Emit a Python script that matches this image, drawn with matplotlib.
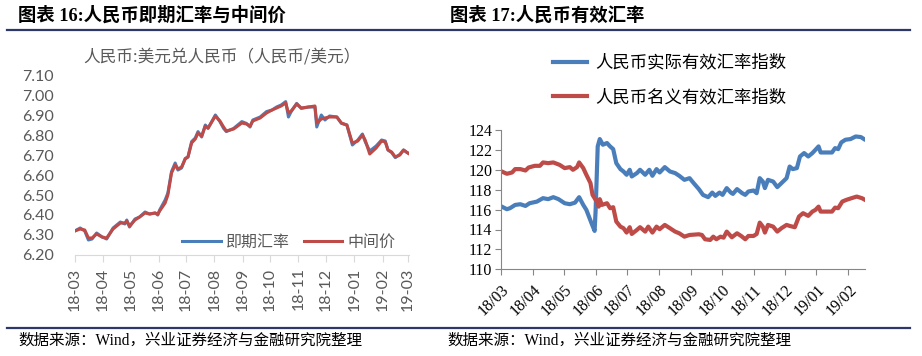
import pandas as pd
import numpy as np
import matplotlib
matplotlib.use("Agg")
import matplotlib.pyplot as plt
from matplotlib.lines import Line2D

plt.rcParams['font.family'] = ['Noto Sans CJK SC', 'DejaVu Sans']

BASE = pd.Timestamp("2018-03-01")

# Chart 16: USD/CNY spot vs central parity (days since 2018-03-01)
fx_days = [0, 6, 11, 15, 19, 24, 30, 35, 42, 50, 55, 57, 60, 66, 71, 77, 82, 88, 91, 93,
           99, 102, 106, 110, 113, 117, 121, 124, 128, 132, 135, 139, 143, 146, 154, 159,
           163, 166, 174, 183, 188, 192, 195, 203, 210, 216, 221, 226, 231, 234, 237, 243,
           248, 256, 263, 265, 270, 274, 279, 287, 292, 298, 304, 310, 315, 318, 323, 330,
           336, 340, 343, 347, 351, 356, 360, 364, 367]
spot = [6.320, 6.335, 6.320, 6.275, 6.280, 6.310, 6.290, 6.280, 6.335, 6.365, 6.355, 6.375,
        6.340, 6.380, 6.390, 6.415, 6.405, 6.410, 6.400, 6.425, 6.475, 6.510, 6.617, 6.660,
        6.625, 6.635, 6.683, 6.690, 6.767, 6.785, 6.817, 6.790, 6.850, 6.833, 6.900, 6.867,
        6.833, 6.817, 6.833, 6.867, 6.858, 6.840, 6.875, 6.890, 6.917, 6.925, 6.940, 6.950,
        6.967, 6.890, 6.917, 6.958, 6.933, 6.940, 6.940, 6.840, 6.900, 6.875, 6.895, 6.890,
        6.858, 6.850, 6.750, 6.775, 6.805, 6.767, 6.720, 6.745, 6.775, 6.770, 6.725, 6.712,
        6.687, 6.703, 6.725, 6.712, 6.703]
central = [6.320, 6.330, 6.325, 6.285, 6.285, 6.305, 6.290, 6.285, 6.330, 6.360, 6.360, 6.370,
           6.345, 6.375, 6.390, 6.410, 6.405, 6.410, 6.405, 6.420, 6.460, 6.500, 6.610, 6.650,
           6.630, 6.640, 6.680, 6.690, 6.760, 6.780, 6.810, 6.795, 6.845, 6.835, 6.895, 6.870,
           6.840, 6.820, 6.830, 6.860, 6.855, 6.845, 6.870, 6.885, 6.910, 6.925, 6.935, 6.945,
           6.960, 6.910, 6.920, 6.955, 6.935, 6.940, 6.945, 6.860, 6.880, 6.885, 6.890, 6.890,
           6.860, 6.850, 6.760, 6.770, 6.800, 6.775, 6.705, 6.735, 6.770, 6.765, 6.725, 6.715,
           6.690, 6.700, 6.725, 6.712, 6.705]
fx_ticks = pd.date_range("2018-03-01", "2019-03-01", freq="MS")

# Chart 17: RMB effective exchange rate indices
reer_days = [1, 6, 9, 14, 19, 24, 28, 35, 41, 46, 51, 56, 62, 67, 72, 76, 80, 83, 88, 91,
             92, 94, 96, 99, 103, 106, 109, 112, 116, 119, 122, 125, 127, 132, 135, 140, 144,
             147, 151, 154, 159, 164, 169, 173, 178, 183, 187, 192, 196, 201, 205, 208, 212,
             215, 219, 223, 225, 229, 234, 237, 240, 245, 248, 251, 254, 256, 259, 264, 268,
             272, 277, 280, 283, 287, 290, 294, 298, 302, 305, 308, 310, 316, 321, 324, 327,
             330, 334, 339, 344, 349, 352]
reer = [116.30, 116.04, 116.14, 116.47, 116.54, 116.37, 116.64, 116.80, 117.15, 117.05,
        117.25, 117.05, 116.64, 116.54, 116.70, 117.25, 116.47, 115.97, 114.63, 113.86,
        115.97, 122.35, 123.09, 122.52, 122.69, 122.35, 122.08, 120.67, 120.07, 119.83,
        119.50, 120.00, 119.33, 119.67, 120.00, 119.50, 120.00, 119.40, 120.07, 119.73,
        120.27, 119.83, 119.67, 119.40, 118.99, 119.16, 118.66, 118.06, 117.48, 117.25,
        117.71, 117.38, 117.71, 117.48, 118.16, 117.71, 117.58, 118.06, 117.65, 117.48,
        117.82, 117.92, 117.65, 119.16, 118.82, 118.16, 118.99, 118.82, 118.26, 118.66,
        119.16, 120.33, 120.07, 120.17, 121.34, 121.68, 121.34, 121.68, 122.01, 122.35,
        121.74, 121.74, 121.74, 122.18, 122.08, 122.75, 123.02, 123.09, 123.35, 123.29, 123.09]
neer_days = [1, 6, 11, 14, 19, 24, 27, 33, 38, 41, 46, 51, 57, 62, 67, 70, 74, 76, 80, 83,
             87, 89, 93, 95, 96, 98, 103, 106, 109, 112, 116, 119, 122, 125, 127, 132, 135,
             140, 143, 147, 151, 154, 159, 164, 169, 173, 178, 183, 192, 195, 198, 203, 206,
             209, 213, 216, 219, 224, 229, 233, 237, 240, 245, 248, 251, 254, 256, 259, 264,
             268, 272, 277, 280, 285, 289, 293, 298, 302, 305, 308, 310, 316, 321, 324, 327,
             331, 335, 340, 345, 350, 353]
neer = [119.83, 119.60, 119.73, 120.07, 120.07, 119.93, 120.23, 120.40, 120.40, 120.74,
        120.67, 120.74, 120.50, 120.17, 120.27, 120.00, 120.27, 120.74, 120.17, 119.50,
        118.66, 117.48, 116.81, 116.30, 117.05, 116.47, 116.64, 116.14, 116.24, 114.80,
        114.29, 114.13, 113.69, 114.23, 113.55, 113.96, 114.23, 113.79, 114.29, 113.69,
        114.29, 114.03, 114.46, 114.13, 113.79, 113.62, 113.28, 113.45, 113.52, 113.45,
        113.02, 112.95, 113.28, 113.02, 113.28, 113.18, 113.79, 113.22, 113.62, 113.35,
        113.02, 113.35, 113.35, 113.55, 114.69, 114.29, 113.69, 114.46, 114.29, 113.79,
        114.13, 114.46, 114.36, 114.23, 115.30, 115.64, 115.37, 115.80, 115.97, 116.30,
        115.80, 115.80, 115.80, 116.20, 116.14, 116.81, 116.98, 117.15, 117.31, 117.15, 116.98]
eer_ticks = pd.date_range("2018-03-01", "2019-02-01", freq="MS")

BLUE = '#4a7ebb'
RED = '#be4b48'
GREY = '#595959'
NAVY = '#2e3868'


def to_dates(days):
    return BASE + pd.to_timedelta(days, unit="D")


W, H = 922, 356
fig = plt.figure(figsize=(W / 100, H / 100), dpi=100)

# titles, rules and footers
serif_cjk = ['Liberation Serif', 'Noto Sans CJK SC']
fig.text(18 / W, 1 - 16 / H, "图表 16:人民币即期汇率与中间价", fontsize=13.2,
         fontweight='bold', va='center', ha='left', family=serif_cjk)
fig.text(450 / W, 1 - 16 / H, "图表 17:人民币有效汇率", fontsize=13.2,
         fontweight='bold', va='center', ha='left', family=serif_cjk)
for yy in (30, 328):
    fig.add_artist(Line2D([7 / W, 910 / W], [1 - yy / H] * 2, color=NAVY, lw=1.6,
                          transform=fig.transFigure))
for xx in (18, 447):
    fig.text(xx / W, 1 - 341 / H, "数据来源：Wind，兴业证券经济与金融研究院整理",
             fontsize=11.2, va='center', ha='left', family=serif_cjk)

# ---- left chart ----
ax1 = fig.add_axes([74.7 / W, 1 - 255 / H, 334.3 / W, 180 / H])
ax1.plot(to_dates(fx_days), spot, color=BLUE, lw=2.2, label='即期汇率')
ax1.plot(to_dates(fx_days), central, color=RED, lw=2.2, label='中间价')
ax1.set_xlim(BASE, BASE + pd.Timedelta(days=366))
ax1.set_ylim(6.2, 7.1)
ax1.set_yticks(np.arange(6.2, 7.101, 0.1))
ax1.set_yticklabels([f"{v:.2f}" for v in np.arange(6.2, 7.101, 0.1)])
ax1.set_xticks(fx_ticks)
ax1.set_xticklabels([d.strftime("%y-%m") for d in fx_ticks], rotation=90)
for s in ('left', 'top', 'right'):
    ax1.spines[s].set_visible(False)
ax1.spines['bottom'].set_color('#d9d9d9')
ax1.tick_params(axis='y', length=0, pad=15, labelsize=11.5, labelcolor=GREY)
ax1.tick_params(axis='x', length=5, color='#d9d9d9', labelsize=11.5, labelcolor=GREY, pad=4)
for lab in ax1.get_xticklabels() + ax1.get_yticklabels():
    lab.set_family('Lato')
ax1.text(0.44, 1.1, "人民币:美元兑人民币（人民币/美元）", transform=ax1.transAxes,
         fontsize=12, color=GREY, ha='center', va='center')
leg1 = ax1.legend(loc='center', bbox_to_anchor=(0.64, 0.07), ncol=2, frameon=False,
                  fontsize=11.5, handlelength=2.4, handletextpad=0.3, columnspacing=0.9)
for t in leg1.get_texts():
    t.set_color(GREY)

# ---- right chart ----
ax2 = fig.add_axes([500.7 / W, 1 - 269.3 / H, 364.3 / W, 139.3 / H])
ax2.plot(to_dates(reer_days), reer, color=BLUE, lw=3, label='人民币实际有效汇率指数')
ax2.plot(to_dates(neer_days), neer, color=RED, lw=3, label='人民币名义有效汇率指数')
ax2.set_xlim(BASE, BASE + pd.Timedelta(days=353))
ax2.set_ylim(110, 124)
ax2.set_yticks(np.arange(110, 125, 2))
ax2.set_xticks(eer_ticks)
ax2.set_xticklabels([d.strftime("%y/%m") for d in eer_ticks], rotation=45,
                    ha='right', va='top', rotation_mode='anchor')
for s in ('top', 'right'):
    ax2.spines[s].set_visible(False)
for s in ('left', 'bottom'):
    ax2.spines[s].set_color('#868686')
ax2.tick_params(length=4, color='#868686', labelsize=11.5)
ax2.tick_params(axis='x', pad=5)
ax2.tick_params(axis='y', pad=2)
for lab in ax2.get_xticklabels() + ax2.get_yticklabels():
    lab.set_family('Liberation Serif')
ax2.legend(loc='upper left', bbox_to_anchor=(0.1, 1.66), frameon=False, fontsize=12.5,
           handlelength=2.0, handletextpad=0.45, labelspacing=0.95)

fig.savefig("out.png", dpi=100)
